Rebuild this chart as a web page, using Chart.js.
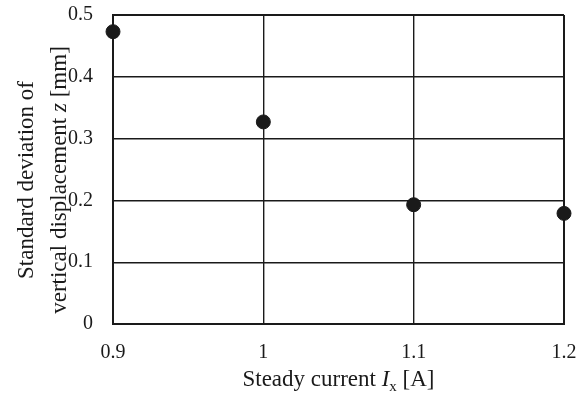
<!DOCTYPE html>
<html>
<head>
<meta charset="utf-8">
<script src="https://cdn.jsdelivr.net/npm/chart.js@4/dist/chart.umd.min.js"></script>
<style>
  html, body { margin: 0; padding: 0; background: #fff; }
  #wrap { width: 584px; height: 396px; position: relative; }
</style>
</head>
<body>
<div id="wrap"><canvas id="c"></canvas></div>
<script>
// Steady current (A) and the measured standard deviation of vertical displacement (mm)
const currents = [0.9, 1.0, 1.1, 1.2];
const stdDevZ = [0.473, 0.327, 0.193, 0.179];

const xTickLabels = ['0.9', '1', '1.1', '1.2'];
const yTickLabels = ['0', '0.1', '0.2', '0.3', '0.4', '0.5'];

const SERIF = '"Liberation Serif", "Times New Roman", Times, serif';
const INK = '#1a1a1a';

// Draws a run of text pieces with mixed styles (italic symbols, subscripts)
function runWidth(ctx, runs) {
  let w = 0;
  for (const r of runs) {
    ctx.font = (r.italic ? 'italic ' : '') + r.size + 'px ' + SERIF;
    w += ctx.measureText(r.text).width;
  }
  return w;
}
function drawRuns(ctx, runs, cx, baseY) {
  let x = cx - runWidth(ctx, runs) / 2;
  for (const r of runs) {
    ctx.font = (r.italic ? 'italic ' : '') + r.size + 'px ' + SERIF;
    ctx.fillText(r.text, x, baseY + (r.dy || 0));
    x += ctx.measureText(r.text).width;
  }
}

const axisTitles = {
  id: 'axisTitles',
  afterDraw(chart) {
    const ctx = chart.ctx;
    const area = chart.chartArea;
    ctx.save();
    ctx.fillStyle = INK;
    ctx.textBaseline = 'alphabetic';
    ctx.textAlign = 'left';

    // x axis title
    drawRuns(ctx, [
      { text: 'Steady current ', size: 23 },
      { text: 'I', size: 23, italic: true },
      { text: 'x', size: 15, dy: 5 },
      { text: ' [A]', size: 23 }
    ], (area.left + area.right) / 2, 386);

    // y axis title, two lines rotated
    const cy = 180;
    ctx.save();
    ctx.translate(33, cy);
    ctx.rotate(-Math.PI / 2);
    drawRuns(ctx, [{ text: 'Standard deviation of', size: 23 }], 0, 0);
    ctx.restore();

    ctx.save();
    ctx.translate(66, cy);
    ctx.rotate(-Math.PI / 2);
    drawRuns(ctx, [
      { text: 'vertical displacement ', size: 23 },
      { text: 'z', size: 23, italic: true },
      { text: ' [mm]', size: 23 }
    ], 0, 0);
    ctx.restore();

    ctx.restore();
  }
};

function edgeWidth(ctx) {
  const ticks = ctx.scale.ticks;
  return (ctx.index === 0 || ctx.index === ticks.length - 1) ? 2 : 1.4;
}

new Chart(document.getElementById('c'), {
  type: 'scatter',
  data: {
    datasets: [{
      data: currents.map((x, i) => ({ x: x, y: stdDevZ[i] })),
      backgroundColor: INK,
      borderColor: INK,
      pointRadius: 7,
      pointHoverRadius: 7,
      clip: false
    }]
  },
  options: {
    responsive: true,
    maintainAspectRatio: false,
    animation: false,
    events: [],
    layout: { padding: { top: 15, right: 20, left: 0, bottom: 0 } },
    plugins: {
      legend: { display: false },
      tooltip: { enabled: false }
    },
    scales: {
      x: {
        type: 'linear',
        min: 0.9,
        max: 1.2,
        afterFit(scale) {
          scale.height = 72;
          scale.paddingLeft = 0;
          scale.paddingRight = 0;
        },
        ticks: {
          stepSize: 0.1,
          padding: 17,
          color: INK,
          font: { family: SERIF, size: 20 },
          maxRotation: 0,
          callback: (v, i) => xTickLabels[i]
        },
        grid: { color: INK, lineWidth: edgeWidth, drawTicks: false },
        border: { color: INK, width: 2 }
      },
      y: {
        type: 'linear',
        min: 0,
        max: 0.5,
        afterFit(scale) {
          scale.width = 113;
          scale.paddingTop = 0;
          scale.paddingBottom = 0;
        },
        ticks: {
          stepSize: 0.1,
          padding: 20,
          color: INK,
          font: { family: SERIF, size: 20 },
          callback: (v, i) => yTickLabels[i]
        },
        grid: { color: INK, lineWidth: edgeWidth, drawTicks: false },
        border: { color: INK, width: 2 }
      }
    }
  },
  plugins: [axisTitles]
});
</script>
</body>
</html>
